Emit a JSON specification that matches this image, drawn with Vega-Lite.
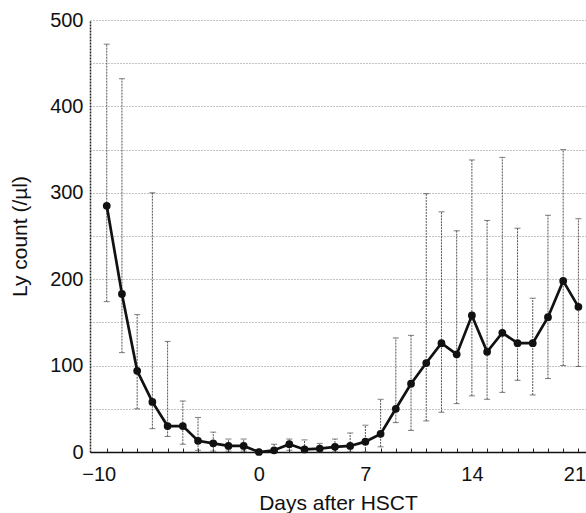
{
  "$schema": "https://vega.github.io/schema/vega-lite/v6.json",
  "width": 496,
  "height": 432,
  "autosize": "none",
  "padding": {"left": 90, "top": 20, "right": 0, "bottom": 61},
  "background": "white",
  "config": {
    "view": {"stroke": null},
    "font": "Liberation Sans",
    "axis": {"labelFont": "Liberation Sans", "titleFont": "Liberation Sans", "labelColor": "#111", "titleColor": "#111", "titleFontWeight": "normal"}
  },
  "data": {
    "values": [
      {"day": -10, "count": 285, "lo": 174, "hi": 472},
      {"day": -9, "count": 183, "lo": 115, "hi": 432},
      {"day": -8, "count": 94, "lo": 50, "hi": 159},
      {"day": -7, "count": 58, "lo": 27, "hi": 300},
      {"day": -6, "count": 30, "lo": 18, "hi": 128},
      {"day": -5, "count": 30, "lo": 9, "hi": 59},
      {"day": -4, "count": 13, "lo": 2, "hi": 40},
      {"day": -3, "count": 10, "lo": 1, "hi": 23},
      {"day": -2, "count": 7, "lo": 1, "hi": 15},
      {"day": -1, "count": 7, "lo": 1, "hi": 15},
      {"day": 0, "count": 0, "lo": 0, "hi": 1},
      {"day": 1, "count": 2, "lo": 0, "hi": 9},
      {"day": 2, "count": 9, "lo": 2, "hi": 15},
      {"day": 3, "count": 3, "lo": 0, "hi": 14},
      {"day": 4, "count": 4, "lo": 0, "hi": 10},
      {"day": 5, "count": 6, "lo": 0, "hi": 15},
      {"day": 6, "count": 7, "lo": 0, "hi": 22},
      {"day": 7, "count": 12, "lo": 0, "hi": 31},
      {"day": 8, "count": 21, "lo": 6, "hi": 61},
      {"day": 9, "count": 50, "lo": 34, "hi": 132},
      {"day": 10, "count": 79, "lo": 25, "hi": 135},
      {"day": 11, "count": 103, "lo": 36, "hi": 299},
      {"day": 12, "count": 126, "lo": 46, "hi": 278},
      {"day": 13, "count": 113, "lo": 56, "hi": 256},
      {"day": 14, "count": 158, "lo": 65, "hi": 338},
      {"day": 15, "count": 116, "lo": 61, "hi": 268},
      {"day": 16, "count": 138, "lo": 69, "hi": 341},
      {"day": 17, "count": 126, "lo": 83, "hi": 259},
      {"day": 18, "count": 126, "lo": 66, "hi": 178},
      {"day": 19, "count": 156, "lo": 85, "hi": 274},
      {"day": 20, "count": 198, "lo": 100, "hi": 350},
      {"day": 21, "count": 168, "lo": 99, "hi": 270}
    ]
  },
  "encoding": {
    "x": {
      "field": "day",
      "type": "quantitative",
      "scale": {"domain": [-11.1, 21.5], "nice": false, "zero": false},
      "axis": {
        "title": "Days after HSCT",
        "titleFontSize": 21,
        "titlePadding": 8,
        "labelFontSize": 20,
        "labelPadding": 16,
        "values": [-10,-9,-8,-7,-6,-5,-4,-3,-2,-1,0,1,2,3,4,5,6,7,8,9,10,11,12,13,14,15,16,17,18,19,20,21],
        "labelExpr": "indexof([-10,0,7,14,21], datum.value) >= 0 ? datum.label : ''",
        "labelOffset": {"condition": [{"test": "datum.value == -10", "value": -8}, {"test": "datum.value == 21", "value": -4}], "value": 0},
        "tickSize": -4,
        "tickColor": "#222",
        "tickWidth": 1,
        "domainColor": "#111",
        "domainWidth": 1.5,
        "grid": false,
        "labelFlush": false,
        "labelOverlap": false
      }
    }
  },
  "layer": [
    {
      "mark": {"type": "errorbar", "ticks": {"size": 6, "color": "#444", "strokeWidth": 1}, "rule": {"color": "#555", "strokeWidth": 1, "strokeDash": [2, 1]}},
      "encoding": {
        "y": {"field": "lo", "type": "quantitative", "title": "Ly count (/µl)", "scale": {"domain": [0, 500], "nice": false}},
        "y2": {"field": "hi"}
      }
    },
    {
      "mark": {"type": "line", "color": "#111", "strokeWidth": 2.7},
      "encoding": {
        "y": {
          "field": "count",
          "type": "quantitative",
          "title": "Ly count (/µl)",
          "scale": {"domain": [0, 500], "nice": false},
          "axis": {
            "title": "Ly count (/µl)",
            "titleFontSize": 21,
            "titlePadding": 19,
            "labelFontSize": 20,
            "labelPadding": 7,
            "values": [0,50,100,150,200,250,300,350,400,450,500],
            "labelExpr": "datum.value % 100 === 0 ? datum.label : ''",
            "ticks": false,
            "domainColor": "#222",
            "domainDash": [2, 1],
            "domainWidth": 1.5,
            "grid": true,
            "gridColor": "#888",
            "gridDash": [1, 2],
            "gridWidth": 1,
            "labelFlush": false
          }
        }
      }
    },
    {
      "mark": {"type": "point", "filled": true, "color": "#111", "size": 60, "opacity": 1},
      "encoding": {
        "y": {"field": "count", "type": "quantitative", "title": "Ly count (/µl)"}
      }
    }
  ]
}
